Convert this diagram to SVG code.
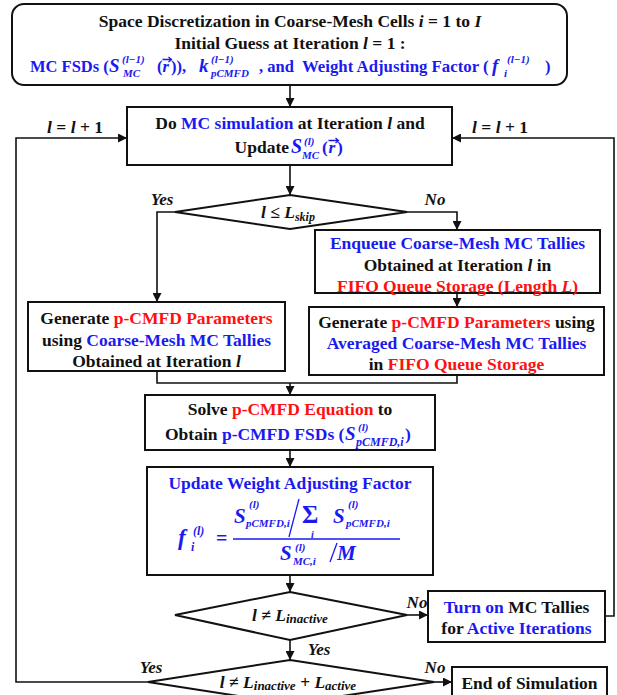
<svg xmlns="http://www.w3.org/2000/svg" width="617" height="695" viewBox="0 0 617 695">
<style>
text{font-family:"Liberation Serif","Times New Roman",serif;font-weight:bold;font-size:17.5px;fill:#111}
.c{text-anchor:middle}
.e{text-anchor:end}
.i{font-style:italic}
.b{fill:#1a1af0}
.r{fill:#ff1010}
.s{font-size:11px;font-style:italic}
.sm{font-size:16.5px}
.mv{font-size:19px;font-style:italic}
.lbl{font-style:italic;font-size:17px}
.big{font-size:21px;font-style:italic}
.box{fill:#fff;stroke:#111;stroke-width:2}
.ln{fill:none;stroke:#111;stroke-width:1.6}
.arr{marker-end:url(#ah)}
.mline{stroke:#1a1af0;stroke-width:1.3;fill:none}
</style>
<defs>
<marker id="ah" viewBox="0 0 10 10" refX="10" refY="5" markerWidth="10" markerHeight="9" markerUnits="userSpaceOnUse" orient="auto">
<path d="M0,0 L10,5 L0,10 z" fill="#111"/>
</marker>
</defs>

<g id="connectors">
<line class="ln arr" x1="290" y1="85" x2="290" y2="107"/>
<line class="ln arr" x1="290" y1="165" x2="290" y2="195"/>
<polyline class="ln arr" points="175,212 157,212 157,302"/>
<polyline class="ln arr" points="407,212 457,212 457,230"/>
<line class="ln arr" x1="457" y1="293" x2="457" y2="307"/>
<polyline class="ln" points="157,371 157,383 457,383 457,375"/>
<line class="ln arr" x1="290" y1="383" x2="290" y2="395"/>
<line class="ln arr" x1="290" y1="450" x2="290" y2="467"/>
<line class="ln arr" x1="290" y1="575" x2="290" y2="592"/>
<line class="ln arr" x1="407" y1="615" x2="428" y2="615"/>
<polyline class="ln arr" points="605,616 614,616 614,138 452,138"/>
<line class="ln arr" x1="290" y1="640" x2="290" y2="660"/>
<line class="ln arr" x1="434" y1="682" x2="452" y2="682"/>
<polyline class="ln arr" points="148,682 16,682 16,138 127,138"/>
<text x="75" y="133" class="c"><tspan class="i">l</tspan> = <tspan class="i">l</tspan> + 1</text>
<text x="500" y="133" class="c"><tspan class="i">l</tspan> = <tspan class="i">l</tspan> + 1</text>
<text x="162" y="205" class="c lbl">Yes</text>
<text x="435" y="205" class="c lbl">No</text>
<text x="417" y="608" class="c lbl">No</text>
<text x="319" y="655" class="c lbl">Yes</text>
<text x="151" y="673" class="c lbl">Yes</text>
<text x="435" y="673" class="c lbl">No</text>
</g>

<g id="init">
<rect class="box" x="12" y="4" width="555" height="81" rx="12"/>
<text x="290" y="27" class="c">Space Discretization in Coarse-Mesh Cells <tspan class="i">i</tspan> = 1 to <tspan class="i">I</tspan></text>
<text x="290" y="49" class="c">Initial Guess at Iteration <tspan class="i">l</tspan> = 1 :</text>
<text x="30" y="72" class="b sm">MC FSDs (</text>
<text x="109" y="72" class="b mv">S</text>
<text x="122" y="63" class="b s">(l−1)</text>
<text x="123" y="77" class="b s">MC</text>
<text x="157" y="72" class="b sm">(</text>
<text x="162.5" y="72" class="b sm i">r</text>
<path class="mline" d="M162.5,59.5 h9 m-3,-2.5 l3,2.5 l-3,2.5"/>
<text x="171" y="72" class="b sm">)),</text>
<text x="199" y="72" class="b mv">k</text>
<text x="211" y="63" class="b s">(l−1)</text>
<text x="211" y="77" class="b s">pCMFD</text>
<text x="259" y="72" class="b sm">, and</text>
<text x="302" y="72" class="b" style="font-size:16.8px">Weight Adjusting Factor (</text>
<text x="492" y="72" class="b mv">f</text>
<text x="507" y="63" class="b s">(l−1)</text>
<text x="504" y="77" class="b s">i</text>
<text x="545" y="72" class="b sm">)</text>
</g>

<g id="mc">
<rect class="box" x="127" y="107" width="325" height="58"/>
<text x="290" y="129" class="c">Do <tspan class="b">MC simulation</tspan> at Iteration <tspan class="i">l</tspan> and</text>
<text x="289" y="153" class="e">Update </text>
<text x="291" y="153" class="b" style="font-size:20px;font-style:italic">S</text>
<text x="304" y="145" class="b s">(l)</text>
<text x="302" y="159" class="b s">MC</text>
<text x="322" y="153" class="b">(</text>
<text x="328.5" y="153" class="b i">r</text>
<path class="mline" d="M328.5,140.5 h10 m-3,-2.5 l3,2.5 l-3,2.5"/>
<text x="337" y="153" class="b">)</text>
</g>

<g id="skip">
<polygon class="box" points="290,195 407,212 290,229 175,212"/>
<text x="288" y="218" class="c i">l ≤ L<tspan style="font-size:12px" dy="3">skip</tspan></text>
</g>

<g id="enqueue">
<rect class="box" x="315" y="230" width="285" height="63"/>
<text x="457.5" y="249" class="c b">Enqueue Coarse-Mesh MC Tallies</text>
<text x="457.5" y="271" class="c">Obtained at Iteration <tspan class="i">l</tspan> in</text>
<text x="457.5" y="292" class="c r">FIFO Queue Storage (Length <tspan class="i">L</tspan>)</text>
</g>

<g id="gen-avg">
<rect class="box" x="309" y="307" width="295" height="68"/>
<text x="456.5" y="328" class="c">Generate <tspan class="r">p-CMFD Parameters</tspan> using</text>
<text x="456.5" y="349" class="c b">Averaged Coarse-Mesh MC Tallies</text>
<text x="456.5" y="370" class="c">in <tspan class="r">FIFO Queue Storage</tspan></text>
</g>

<g id="gen-cur">
<rect class="box" x="28" y="302" width="257" height="69"/>
<text x="156.5" y="324" class="c">Generate <tspan class="r">p-CMFD Parameters</tspan></text>
<text x="156.5" y="346" class="c">using <tspan class="b">Coarse-Mesh MC Tallies</tspan></text>
<text x="156.5" y="367" class="c">Obtained at Iteration <tspan class="i">l</tspan></text>
</g>

<g id="solve">
<rect class="box" x="145" y="395" width="290" height="55"/>
<text x="290" y="415" class="c">Solve <tspan class="r">p-CMFD Equation</tspan> to</text>
<text x="165" y="440">Obtain <tspan class="b">p-CMFD FSDs (</tspan></text>
<text x="345" y="440" class="b" style="font-size:19px;font-style:italic">S</text>
<text x="358" y="431" class="b s">(l)</text>
<text x="356" y="446" class="b s" style="font-size:12px">pCMFD,i</text>
<text x="405" y="440" class="b">)</text>
</g>

<g id="update">
<rect class="box" x="147" y="467" width="286" height="108"/>
<text x="290" y="489" class="c b">Update Weight Adjusting Factor</text>
<text x="178" y="545" class="b" style="font-size:23px;font-style:italic">f</text>
<text x="193" y="535" class="b s" style="font-size:12px">(l)</text>
<text x="191" y="551" class="b s" style="font-size:12px">i</text>
<text x="216" y="545" class="b" style="font-size:20px">=</text>
<line class="mline" x1="233" y1="539" x2="400" y2="539"/>
<text x="234" y="523" class="b big">S</text>
<text x="249" y="508" class="b s">(l)</text>
<text x="246" y="527" class="b s">pCMFD,i</text>
<line class="mline" x1="299" y1="499" x2="289" y2="537"/>
<text x="302" y="523" class="b" style="font-size:25px">Σ</text>
<text x="311" y="538" class="b s" style="font-size:10px">i</text>
<text x="333" y="523" class="b big">S</text>
<text x="348" y="508" class="b s">(l)</text>
<text x="346" y="527" class="b s">pCMFD,i</text>
<text x="280" y="560" class="b big">S</text>
<text x="295" y="551" class="b s">(l)</text>
<text x="293" y="565" class="b s">MC,i</text>
<line class="mline" x1="337" y1="543" x2="330" y2="562"/>
<text x="337" y="560" class="b big">M</text>
</g>

<g id="inactive">
<polygon class="box" points="290,592 407,615 290,640 175,615"/>
<text x="290" y="621" class="c i">l ≠ L<tspan style="font-size:13px" dy="2">inactive</tspan></text>
</g>

<g id="turnon">
<rect class="box" x="428" y="591" width="177" height="51"/>
<text x="516.5" y="613" class="c"><tspan class="b">Turn on</tspan> MC Tallies</text>
<text x="516.5" y="634" class="c">for <tspan class="b">Active Iterations</tspan></text>
</g>

<g id="active">
<polygon class="box" points="290,660 434,682 290,704 148,682"/>
<text x="288" y="688" class="c i">l ≠ L<tspan style="font-size:13px" dy="2">inactive</tspan><tspan dy="-2"> + L</tspan><tspan style="font-size:13px" dy="2">active</tspan></text>
</g>

<g id="end">
<rect class="box" x="452" y="667" width="155" height="40"/>
<text x="529.5" y="689" class="c">End of Simulation</text>
</g>
</svg>
